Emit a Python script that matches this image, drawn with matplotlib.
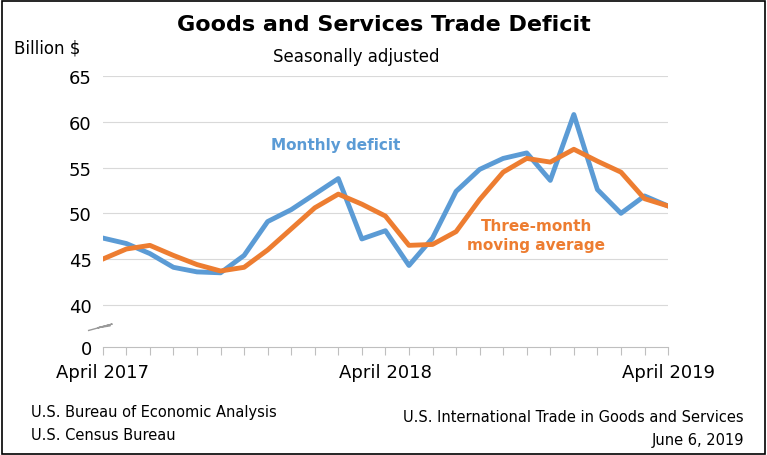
import matplotlib
matplotlib.use("Agg")
import matplotlib.pyplot as plt
from matplotlib.patches import Rectangle

months = list(range(25))  # April 2017 .. April 2019
monthly = [47.3, 46.7, 45.6, 44.1, 43.6, 43.5, 45.4, 49.1, 50.4, 52.1, 53.8, 47.2, 48.1,
           44.3, 47.3, 52.4, 54.8, 56.0, 56.6, 53.6, 60.8, 52.6, 50.0, 51.9, 50.8]
avg3 = [45.0, 46.1, 46.5, 45.4, 44.4, 43.7, 44.1, 46.0, 48.3, 50.6, 52.1, 51.0, 49.7,
        46.5, 46.6, 48.0, 51.5, 54.5, 56.0, 55.6, 57.0, 55.7, 54.5, 51.6, 50.8]
ytick_vals = [40, 45, 50, 55, 60, 65]
xlabels = ["April 2017", "April 2018", "April 2019"]

plt.rcParams['font.family'] = ['DejaVu Sans']
fig = plt.figure(figsize=(7.67, 4.56), dpi=100)
fig.patches.append(Rectangle((0.002, 0.003), 0.995, 0.993, transform=fig.transFigure,
                             fill=False, edgecolor='black', lw=1.2))
ax = fig.add_axes([0.134, 0.237, 0.737, 0.594])
ymin = 35.4
ax.set_ylim(ymin, 65)
ax.set_xlim(0, 24)
for v in ytick_vals:
    ax.axhline(v, color='#d9d9d9', lw=0.8, zorder=0)
ax.plot(months, monthly, color='#5b9bd5', lw=3.5, zorder=3)
ax.plot(months, avg3, color='#ed7d31', lw=3.5, zorder=4)
ax.set_yticks([ymin] + ytick_vals)
ax.set_yticklabels(["0"] + [str(v) for v in ytick_vals], fontsize=13)
ax.tick_params(axis='y', length=0, pad=8)
ax.set_xticks(months)
ax.set_xticklabels([])
ax.tick_params(axis='x', length=6, color='#bfbfbf', direction='out')
for s in ['top', 'right', 'left']:
    ax.spines[s].set_visible(False)
ax.spines['bottom'].set_color('#bfbfbf')
# break mark
ax.plot([-0.6, 0.4, -0.2, 0.3], [37.2, 37.9, 37.5, 37.7], color='#999999', lw=1,
        clip_on=False)
for i, lab in zip([0, 12, 24], xlabels):
    ax.text(i, 32.7, lab, ha='center', va='center', fontsize=13)
ax.text(9.9, 57.0, "Monthly deficit", color='#5b9bd5', fontsize=11, fontweight='bold', ha='center')
ax.text(18.4, 48.2, "Three-month", color='#ed7d31', fontsize=11, fontweight='bold', ha='center')
ax.text(18.4, 46.1, "moving average", color='#ed7d31', fontsize=11, fontweight='bold', ha='center')

fig.text(0.5, 0.945, "Goods and Services Trade Deficit", ha='center', va='center',
         fontsize=16, fontweight='bold')
fig.text(0.465, 0.875, "Seasonally adjusted", ha='center', va='center', fontsize=12)
fig.text(0.018, 0.893, "Billion $", ha='left', va='center', fontsize=12)
fig.text(0.04, 0.095, "U.S. Bureau of Economic Analysis", fontsize=10.5, va='center')
fig.text(0.04, 0.045, "U.S. Census Bureau", fontsize=10.5, va='center')
fig.text(0.97, 0.085, "U.S. International Trade in Goods and Services", fontsize=10.5, va='center', ha='right')
fig.text(0.97, 0.035, "June 6, 2019", fontsize=10.5, va='center', ha='right')
fig.savefig("out.png", dpi=100)
